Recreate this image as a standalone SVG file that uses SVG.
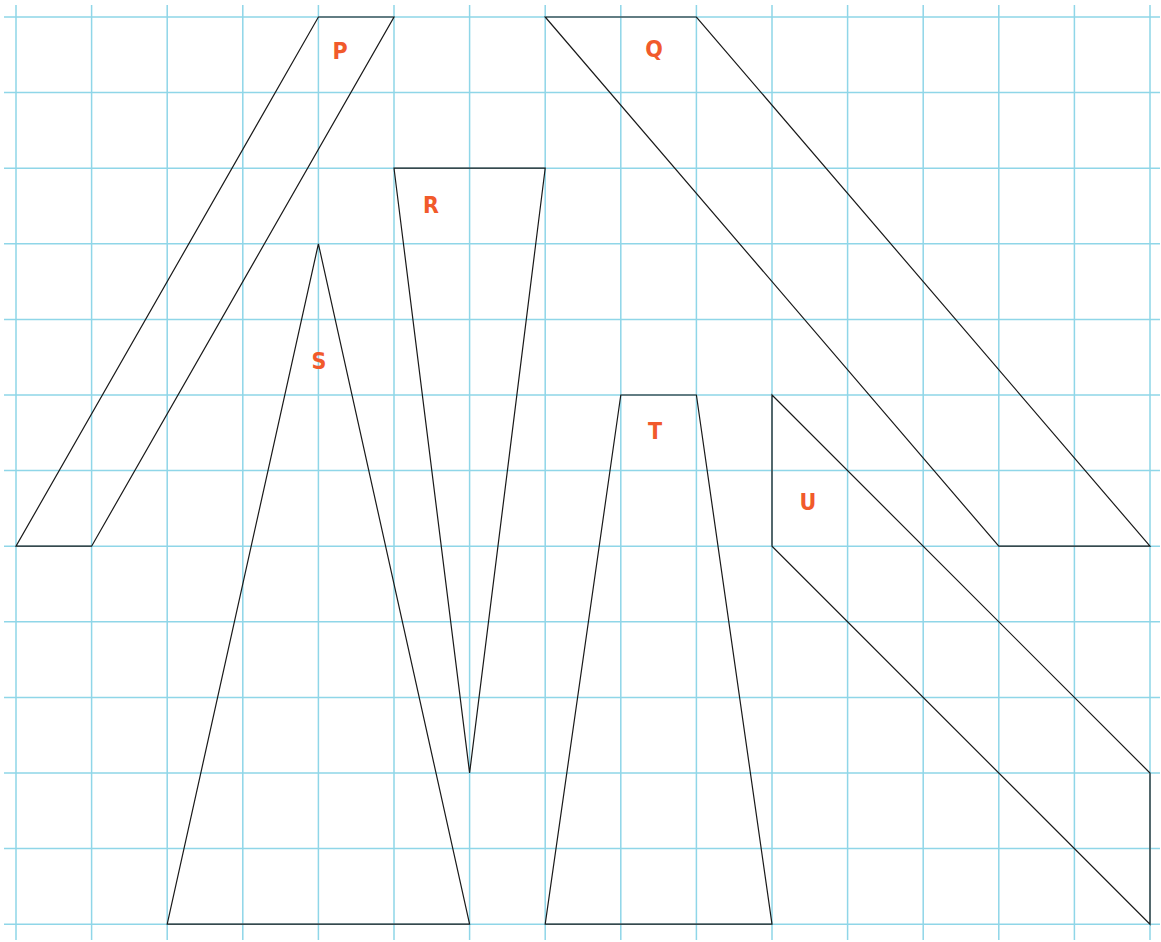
<svg xmlns="http://www.w3.org/2000/svg" width="1161" height="942" viewBox="0 0 1161 942">
<style>
.g{stroke:#8fd6e8;stroke-width:1.5;fill:none}
.s{stroke:#1a1a1a;stroke-width:1.2;fill:none;stroke-linejoin:miter}
.l{font-family:"DejaVu Sans Condensed","DejaVu Sans",sans-serif;font-weight:bold;font-size:23px;fill:#f15a2b;text-anchor:middle}
</style>
<rect width="1161" height="942" fill="#ffffff"/>
<g id="grid" class="g">
<path d="M16 5V940M91.6 5V940M167.2 5V940M242.8 5V940M318.4 5V940M394 5V940M469.6 5V940M545.2 5V940M620.8 5V940M696.4 5V940M772 5V940M847.6 5V940M923.2 5V940M998.8 5V940M1074.4 5V940M1150 5V940"/>
<path d="M4 17H1160M4 92.6H1160M4 168.2H1160M4 243.8H1160M4 319.4H1160M4 395H1160M4 470.6H1160M4 546.2H1160M4 621.8H1160M4 697.4H1160M4 773H1160M4 848.6H1160M4 924.2H1160"/>
</g>
<g id="P"><polygon class="s" points="318.4,17 394,17 91.6,546.2 16,546.2"/><text class="l" x="340" y="59">P</text></g>
<g id="Q"><polygon class="s" points="545.2,17 696.4,17 1150,546.2 998.8,546.2"/><text class="l" x="654" y="57">Q</text></g>
<g id="R"><polygon class="s" points="394,168.2 545.2,168.2 469.6,773"/><text class="l" x="431" y="213">R</text></g>
<g id="S"><polygon class="s" points="318.4,243.8 469.6,924.2 167.2,924.2"/><text class="l" x="319" y="369">S</text></g>
<g id="T"><polygon class="s" points="620.8,395 696.4,395 772,924.2 545.2,924.2"/><text class="l" x="655" y="439">T</text></g>
<g id="U"><polygon class="s" points="772,395 1150,773 1150,924.2 772,546.2"/><text class="l" x="808" y="510">U</text></g>
<g id="connectors"></g>
</svg>
